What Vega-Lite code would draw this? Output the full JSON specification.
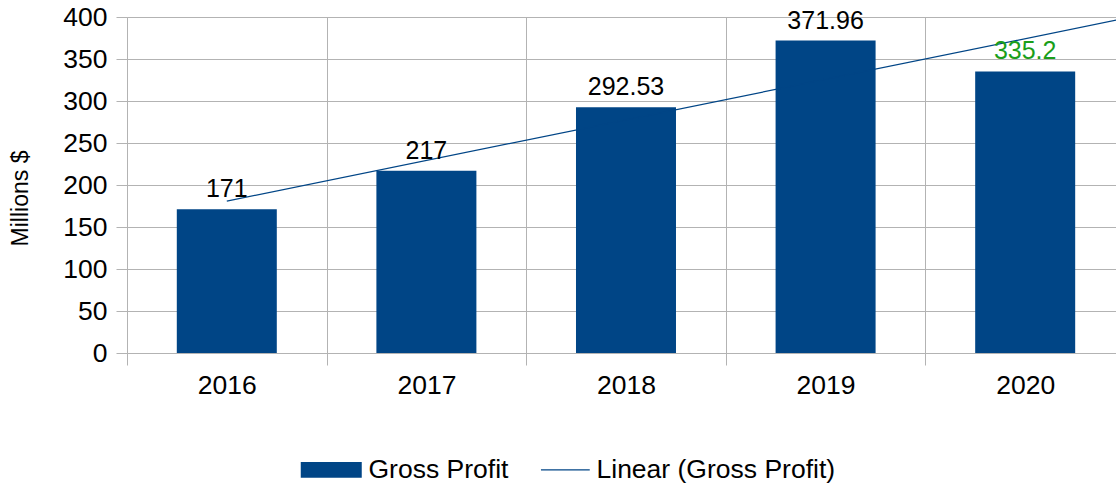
{
  "$schema": "https://vega.github.io/schema/vega-lite/v6.json",
  "width": 989,
  "height": 336,
  "autosize": {"type": "none"},
  "padding": {"left": 127, "top": 17, "right": 0, "bottom": 132},
  "config": {
    "font": "Liberation Sans",
    "view": {"stroke": null},
    "axis": {"labelColor": "#000000", "titleColor": "#000000", "labelFont": "Liberation Sans", "titleFont": "Liberation Sans"},
    "legend": {"labelFont": "Liberation Sans"}
  },
  "datasets": {
    "bars": [
      {"year": 2016, "value": 171, "label": "171"},
      {"year": 2017, "value": 217, "label": "217"},
      {"year": 2018, "value": 292.53, "label": "292.53"},
      {"year": 2019, "value": 371.96, "label": "371.96"},
      {"year": 2020, "value": 335.2, "label": "335.2"}
    ],
    "trend": [
      {"year": 2016, "value": 180.87},
      {"year": 2020.5, "value": 398.4}
    ]
  },
  "resolve": {"axis": {"x": "independent"}},
  "layer": [
    {
      "data": {"name": "bars"},
      "mark": {"type": "bar", "width": 100},
      "encoding": {
        "x": {
          "field": "year", "type": "quantitative",
          "scale": {"domain": [2015.5, 2020.455], "nice": false, "zero": false, "padding": 0},
          "axis": {
            "orient": "bottom",
            "values": [2015.5, 2016.5, 2017.5, 2018.5, 2019.5],
            "labels": false, "grid": true, "gridColor": "#b3b3b3", "gridWidth": 1,
            "ticks": true, "tickSize": 12, "tickColor": "#b3b3b3",
            "domain": false, "title": null
          }
        },
        "y": {
          "field": "value", "type": "quantitative",
          "scale": {"domain": [0, 400], "nice": false},
          "axis": {
            "values": [0, 50, 100, 150, 200, 250, 300, 350, 400],
            "grid": true, "gridColor": "#b3b3b3",
            "tickSize": 11, "tickColor": "#b3b3b3",
            "domain": true, "domainColor": "#b3b3b3",
            "labelFontSize": 26.5, "labelPadding": 9,
            "title": "Millions $", "titleFontSize": 23, "titleFontWeight": "normal",
            "titleX": -107, "titleY": 181, "titleAngle": -90, "titleAlign": "center", "titleBaseline": "middle"
          }
        },
        "color": {
          "datum": "Gross Profit",
          "scale": {"domain": ["Gross Profit", "Linear (Gross Profit)"], "range": ["#004586", "#004586"]},
          "legend": {
            "title": null, "orient": "none", "direction": "horizontal",
            "legendX": 191, "legendY": 439.5,
            "symbolSize": 3721, "labelFontSize": 26.5, "labelColor": "#000000",
            "labelOffset": 24, "columnPadding": 29, "padding": 0,
            "labelLimit": 400,
            "encode": {
              "symbols": {
                "update": {
                  "shape": {"signal": "datum.value === 'Gross Profit' ? 'M-1,-0.26H1V0.26H-1Z' : 'M-0.6,0H1'"},
                  "fill": {"signal": "datum.value === 'Gross Profit' ? '#004586' : 'transparent'"},
                  "stroke": {"value": "#004586"},
                  "strokeWidth": {"signal": "datum.value === 'Gross Profit' ? 0 : 1.2"},
                  "opacity": {"value": 1},
                  "fillOpacity": {"value": 1}
                }
              }
            }
          }
        }
      }
    },
    {
      "data": {"name": "trend"},
      "mark": {"type": "line", "strokeWidth": 1.2, "clip": true},
      "encoding": {
        "x": {"field": "year", "type": "quantitative", "axis": null},
        "y": {"field": "value", "type": "quantitative"},
        "color": {"datum": "Linear (Gross Profit)"}
      }
    },
    {
      "data": {"name": "bars"},
      "mark": {"type": "text", "baseline": "alphabetic", "dy": -12, "fontSize": 25, "align": "center"},
      "encoding": {
        "x": {
          "field": "year", "type": "quantitative",
          "axis": {
            "orient": "bottom",
            "values": [2016, 2017, 2018, 2019, 2020],
            "format": "d",
            "labels": true, "labelFontSize": 26.5, "labelPadding": 19,
            "ticks": false, "grid": false, "domain": false, "title": null
          }
        },
        "y": {"field": "value", "type": "quantitative"},
        "text": {"field": "label"},
        "color": {"condition": {"test": "datum.year === 2020", "value": "#1a9e1a"}, "value": "#000000"}
      }
    }
  ]
}
